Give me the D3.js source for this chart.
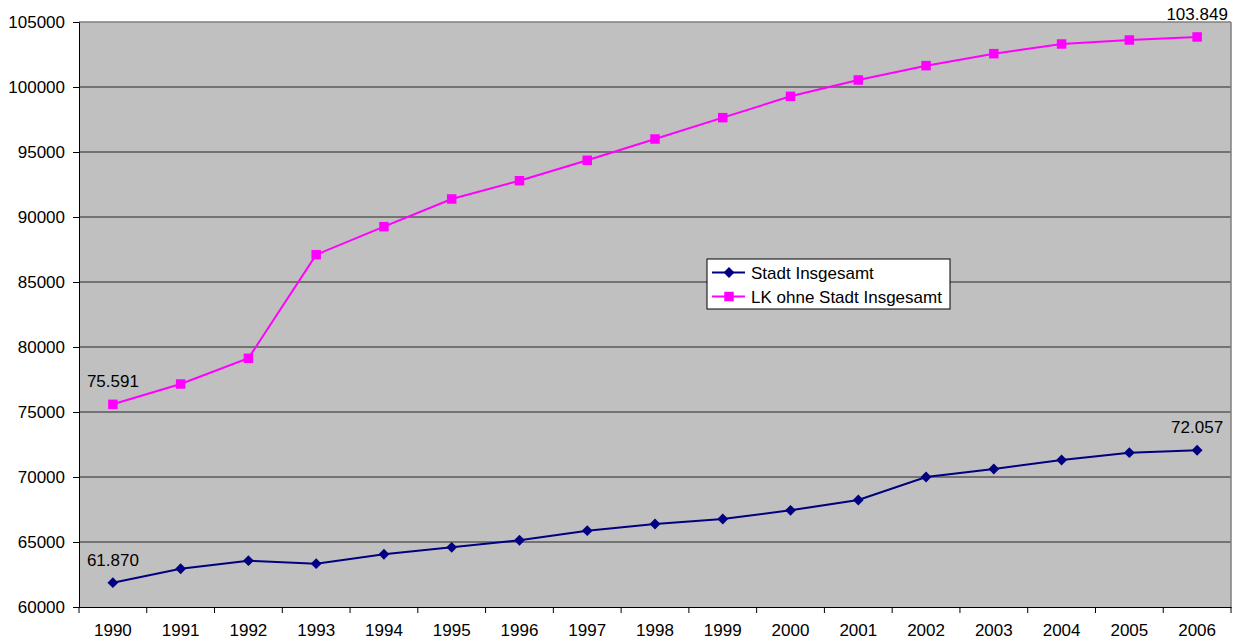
<!DOCTYPE html>
<html><head><meta charset="utf-8">
<script src="https://cdn.jsdelivr.net/npm/d3@7"></script>
<style>body{margin:0;background:#fff;} text{font-family:"Liberation Sans",Arial,sans-serif;}</style>
</head><body><svg id="c" width="1239" height="642"></svg>
<script>
const years = ["1990","1991","1992","1993","1994","1995","1996","1997","1998","1999","2000","2001","2002","2003","2004","2005","2006"];
const stadt = [61870,62946,63564,63333,64054,64592,65131,65872,66385,66769,67436,68231,70000,70615,71308,71872,72057];
const lk = [75591,77154,79131,87100,89256,91385,92792,94362,96000,97641,99282,100538,101641,102564,103308,103615,103849];
const yTicks = [60000,65000,70000,75000,80000,85000,90000,95000,100000,105000];
const seriesNames = ["Stadt Insgesamt","LK ohne Stadt Insgesamt"];
const labelFmt = v => d3.format(",")(v).replace(/,/g,".");

const FS = 17;
const svg = d3.select("#c");
const L=79,R=1231,T=22,B=607;
const x = d3.scaleBand().domain(years).range([L,R]);
const y = d3.scaleLinear().domain([60000,105000]).range([B,T]);
const cx = d => x(d)+x.bandwidth()/2;

svg.append("rect").attr("x",L).attr("y",T).attr("width",R-L).attr("height",B-T).attr("fill","#c0c0c0");
svg.append("g").selectAll("line").data(yTicks.slice(1,-1)).join("line")
  .attr("x1",L).attr("x2",R).attr("y1",d=>y(d)).attr("y2",d=>y(d)).attr("stroke","#5a5a5a").attr("stroke-width",1.3);
svg.append("line").attr("x1",L).attr("x2",R).attr("y1",T).attr("y2",T).attr("stroke","#808080").attr("stroke-width",1.5);
svg.append("line").attr("x1",R).attr("x2",R).attr("y1",T).attr("y2",B).attr("stroke","#808080").attr("stroke-width",1.5);

const ya = svg.append("g").attr("transform",`translate(${L},0)`)
  .call(d3.axisLeft(y).tickValues(yTicks).tickFormat(d=>d).tickSize(6).tickPadding(8));
ya.select(".domain").attr("stroke","#000");
ya.selectAll("text").attr("font-size",FS).attr("fill","#000").attr("font-family","Liberation Sans, Arial");

const xa = svg.append("g").attr("transform",`translate(0,${B})`)
  .call(d3.axisBottom(x).tickSize(0).tickPadding(17));
xa.select(".domain").attr("stroke","#000");
xa.selectAll("text").attr("font-size",FS).attr("fill","#000").attr("font-family","Liberation Sans, Arial");
xa.selectAll(".bt").data(years.concat(["end"])).join("line")
  .attr("x1",(d,i)=>L+i*x.bandwidth()).attr("x2",(d,i)=>L+i*x.bandwidth())
  .attr("y1",0).attr("y2",6).attr("stroke","#000");

const line = d3.line().x((d,i)=>cx(years[i])).y(d=>y(d));
const cols = ["#000080","#ff00ff"];
svg.append("path").datum(lk).attr("d",line).attr("fill","none").attr("stroke",cols[1]).attr("stroke-width",2);
svg.append("path").datum(stadt).attr("d",line).attr("fill","none").attr("stroke",cols[0]).attr("stroke-width",2);
const diamond = d3.symbol().type(d3.symbolDiamond2).size(75);
const square = d3.symbol().type(d3.symbolSquare).size(90);
svg.append("g").selectAll("path").data(lk).join("path").attr("d",square)
  .attr("transform",(d,i)=>`translate(${cx(years[i])},${y(d)})`).attr("fill",cols[1]);
svg.append("g").selectAll("path").data(stadt).join("path").attr("d",diamond)
  .attr("transform",(d,i)=>`translate(${cx(years[i])},${y(d)})`).attr("fill",cols[0]);

const lab = [[0,stadt],[16,stadt],[0,lk],[16,lk]];
svg.append("g").selectAll("text").data(lab).join("text")
  .attr("x",d=>cx(years[d[0]])).attr("y",d=>y(d[1][d[0]])-17)
  .attr("text-anchor","middle").attr("font-size",FS).attr("fill","#000")
  .text(d=>labelFmt(d[1][d[0]]));

const lg = svg.append("g").attr("transform","translate(707,259)");
lg.append("rect").attr("width",243).attr("height",50).attr("fill","#fff").attr("stroke","#000").attr("stroke-width",1);
seriesNames.forEach((n,i)=>{
  const yy = 13.5 + i*24;
  lg.append("line").attr("x1",5).attr("x2",38).attr("y1",yy).attr("y2",yy).attr("stroke",cols[i]).attr("stroke-width",2);
  lg.append("path").attr("d",i===0?diamond:square).attr("transform",`translate(22,${yy})`).attr("fill",cols[i]);
  lg.append("text").attr("x",44).attr("y",yy+6).attr("font-size",FS).attr("fill","#000").text(n);
});
</script></body></html>
